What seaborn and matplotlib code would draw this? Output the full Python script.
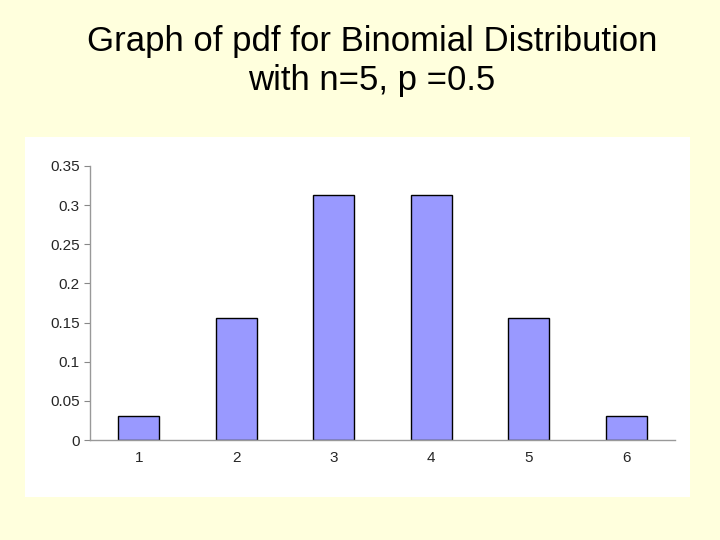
import matplotlib
matplotlib.use("Agg")
import matplotlib.pyplot as plt
import seaborn as sns
import pandas as pd
from matplotlib.patches import Rectangle

categories = ["1", "2", "3", "4", "5", "6"]
values = [0.03125, 0.15625, 0.3125, 0.3125, 0.15625, 0.03125]
yticks = [0, 0.05, 0.1, 0.15, 0.2, 0.25, 0.3, 0.35]
ylabels = ["0", "0.05", "0.1", "0.15", "0.2", "0.25", "0.3", "0.35"]

sns.set_style("white")
plt.rcParams['font.family'] = ['Liberation Sans', 'DejaVu Sans']

fig = plt.figure(figsize=(7.2, 5.4), dpi=100, facecolor="#FFFFDD")
fig.patches.append(Rectangle((25/720, 43/540), 665/720, 360/540, transform=fig.transFigure,
                             facecolor="white", edgecolor="none", zorder=-10))
ax = fig.add_axes([90/720, 100/540, 585/720, 274/540])
ax.set_zorder(5)
ax.set_facecolor("none")
df = pd.DataFrame({"x": categories, "y": values})
sns.barplot(data=df, x="x", y="y", ax=ax, color="#9999FF", saturation=1,
            width=0.42, edgecolor="black", linewidth=1)
ax.set_ylim(0, 0.35)
ax.set_yticks(yticks)
ax.set_yticklabels(ylabels, fontsize=11)
ax.tick_params(axis="x", labelsize=11, length=0, pad=8)
ax.tick_params(axis="y", left=True, length=4, color="#888888")
ax.set_xlabel("")
ax.set_ylabel("")
for s in ["top", "right"]:
    ax.spines[s].set_visible(False)
for s in ["left", "bottom"]:
    ax.spines[s].set_color("#999999")
    ax.spines[s].set_linewidth(1)
fig.text(372/720, 1 - 61/540, "Graph of pdf for Binomial Distribution\nwith n=5, p =0.5",
         ha="center", va="center", fontsize=25, linespacing=1.2, color="black")
fig.savefig("out.png", dpi=100, facecolor=fig.get_facecolor())
